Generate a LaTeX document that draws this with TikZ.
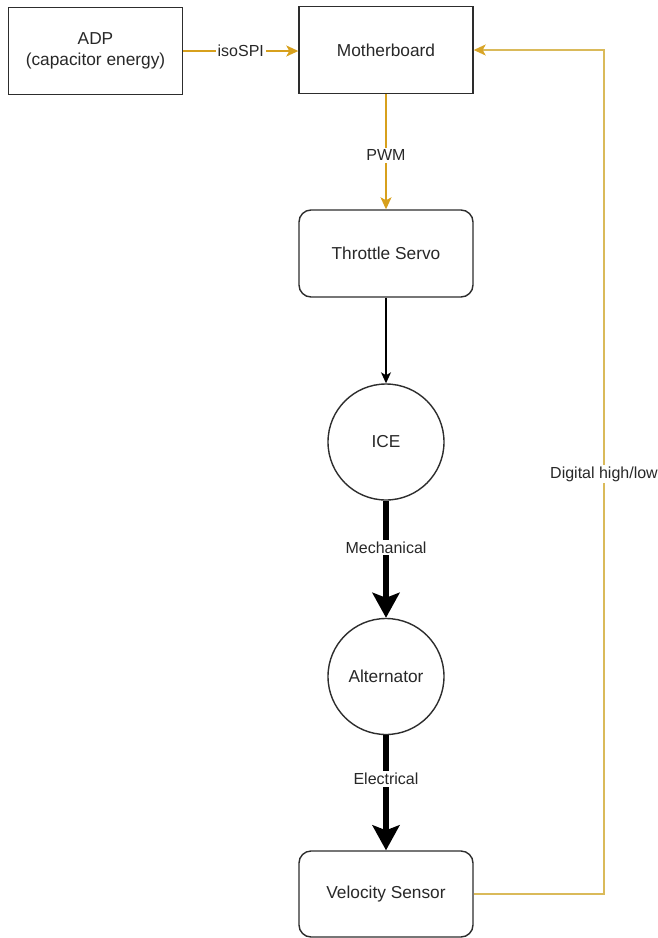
\documentclass[tikz,border=0pt]{standalone}
\usepackage{fontspec}
\setmainfont{Liberation Sans}
\usetikzlibrary{arrows.meta}
\definecolor{sigorange}{RGB}{215,160,28}
\definecolor{sigyellow}{RGB}{218,186,90}
\definecolor{inktext}{RGB}{40,40,40}
\definecolor{inkline}{RGB}{45,45,45}
\begin{document}
\begin{tikzpicture}[x=1pt,y=-1pt,
  box/.style={draw=inkline,line width=1.4pt,fill=white,minimum width=174pt,minimum height=87pt,
    inner sep=0pt,align=center,text=inktext,font=\fontsize{17.3}{20.5}\selectfont},
  roundbox/.style={box,rounded corners=12pt},
  disc/.style={circle,draw=inkline,line width=1.4pt,fill=white,minimum size=116pt,inner sep=0pt,
    text=inktext,font=\fontsize{17.3}{20.5}\selectfont},
  sig/.style={draw=sigorange,line width=1.4pt,-{Stealth[length=12pt,width=11pt,inset=3pt]}},
  loopsig/.style={draw=sigyellow,line width=1.4pt,-{Stealth[length=12pt,width=11pt,inset=3pt,color=sigorange!80!sigyellow]}},
  thin/.style={draw=black,line width=1.2pt,-{Stealth[length=11pt,width=10pt,inset=3pt]}},
  power/.style={draw=black,line width=6pt,-{Stealth[length=25pt,width=27pt,inset=5pt]}},
  lbl/.style={fill=white,inner sep=2pt,text=inktext,font=\fontsize{16}{19}\selectfont}
]
\useasboundingbox (0,0) rectangle (657,938);

% blocks
\node[box] (adp) at (95.5,51) {ADP\\(capacitor energy)};
\node[box] (mb) at (386,50) {Motherboard};
\node[roundbox] (servo) at (386,253.5) {Throttle Servo};
\node[disc] (ice) at (386,442) {ICE};
\node[disc] (alt) at (386,676.5) {Alternator};
\node[roundbox,minimum height=86pt] (vel) at (386,894) {Velocity Sensor};

% signal links
\draw[sig] (adp.east) -- node[lbl] {isoSPI} (mb.west |- adp.east);
\draw[sig] (mb.south) -- node[lbl,pos=0.53] {PWM} (servo.north);
\draw[thin] (servo.south) -- (ice.north);

% power flow
\draw[power] (ice.south) -- node[lbl,pos=0.40] {Mechanical} (alt.north);
\draw[power] (alt.south) -- node[lbl,pos=0.38] {Electrical} (vel.north);

% feedback loop
\coordinate (fbcorner) at (604,894);
\draw[loopsig] (vel.east) -- (fbcorner) |- (mb.east);
\node[lbl] (fblabel) at (604,474) {Digital high/low};
\end{tikzpicture}
\end{document}
